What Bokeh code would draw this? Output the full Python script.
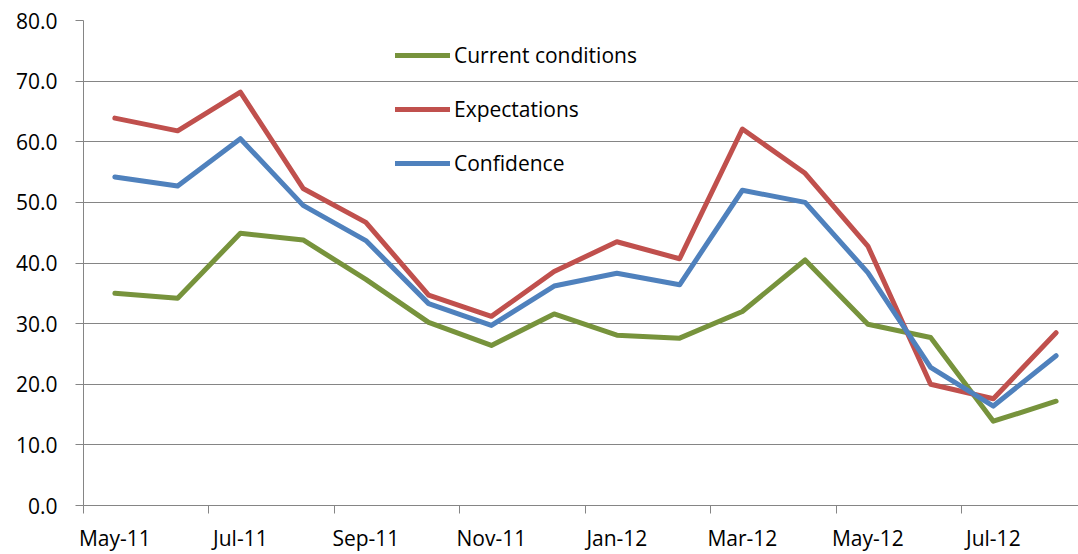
from bokeh.plotting import figure
from bokeh.models import (Range1d, FixedTicker, Legend, LegendItem,
                          PrintfTickFormatter)
from bokeh.embed import file_html
from bokeh.resources import INLINE

months = ["May-11", "Jun-11", "Jul-11", "Aug-11", "Sep-11", "Oct-11", "Nov-11", "Dec-11",
          "Jan-12", "Feb-12", "Mar-12", "Apr-12", "May-12", "Jun-12", "Jul-12", "Aug-12"]
current_conditions = [35.0, 34.2, 44.9, 43.8, 37.3, 30.2, 26.4, 31.6,
                      28.1, 27.6, 32.0, 40.5, 29.9, 27.7, 13.9, 17.2]
expectations = [63.9, 61.8, 68.2, 52.3, 46.7, 34.7, 31.2, 38.6,
                43.5, 40.7, 62.1, 54.8, 42.8, 20.0, 17.6, 28.5]
confidence = [54.2, 52.7, 60.5, 49.5, 43.7, 33.3, 29.7, 36.2,
              38.3, 36.4, 52.0, 50.0, 38.4, 22.8, 16.4, 24.7]
y_ticks = [0, 10, 20, 30, 40, 50, 60, 70, 80]

FONT = "Open Sans"
GRAY = "#858585"

xs = list(range(len(months)))

p = figure(width=1078, height=554, output_backend="svg", toolbar_location=None,
           x_range=Range1d(-0.5, 15.357), y_range=Range1d(0, 80),
           min_border_left=83, min_border_right=0, min_border_top=20, min_border_bottom=49)
p.outline_line_color = None
p.background_fill_color = "white"
p.border_fill_color = "white"

r_cur = p.line(xs, current_conditions, line_color="#77933C", line_width=5, line_join="round", line_cap="round")
r_exp = p.line(xs, expectations, line_color="#C0504D", line_width=5, line_join="round", line_cap="round")
r_con = p.line(xs, confidence, line_color="#4F81BD", line_width=5, line_join="round", line_cap="round")

# x axis
p.xaxis.ticker = FixedTicker(ticks=[i for i in xs if i % 2 == 0],
                             minor_ticks=[i - 0.5 for i in xs if i % 2 == 0])
p.xaxis.major_label_overrides = {i: months[i] for i in xs if i % 2 == 0}
p.xaxis.major_tick_out = 0
p.xaxis.major_tick_in = 0
p.xaxis.minor_tick_out = 8
p.xaxis.minor_tick_in = 0
p.xaxis.minor_tick_line_color = GRAY
p.xaxis.axis_line_color = GRAY
p.xaxis.major_label_standoff = 10
p.xaxis.major_label_text_font = FONT
p.xaxis.major_label_text_font_size = "21px"
p.xaxis.major_label_text_color = "black"
p.xgrid.grid_line_color = None

# y axis
p.yaxis.ticker = FixedTicker(ticks=y_ticks)
p.yaxis.formatter = PrintfTickFormatter(format="%.1f")
p.yaxis.major_tick_out = 8
p.yaxis.major_tick_in = 0
p.yaxis.minor_tick_line_color = None
p.yaxis.major_tick_line_color = GRAY
p.yaxis.axis_line_color = GRAY
p.yaxis.major_label_standoff = 18
p.yaxis.major_label_text_font = FONT
p.yaxis.major_label_text_font_size = "21px"
p.yaxis.major_label_text_color = "black"
p.ygrid.ticker = FixedTicker(ticks=y_ticks)
p.ygrid.grid_line_color = GRAY
p.ygrid.grid_line_width = 1

legend = Legend(items=[LegendItem(label="Current conditions", renderers=[r_cur]),
                       LegendItem(label="Expectations", renderers=[r_exp]),
                       LegendItem(label="Confidence", renderers=[r_con])],
                location=(312, 328), padding=0, margin=0, spacing=26,
                glyph_width=55, glyph_height=24, label_height=24, label_standoff=4,
                border_line_color=None, background_fill_alpha=0,
                label_text_font=FONT, label_text_font_size="21px", label_text_color="black")
p.add_layout(legend)

open("out.html", "w").write(file_html(p, INLINE))
